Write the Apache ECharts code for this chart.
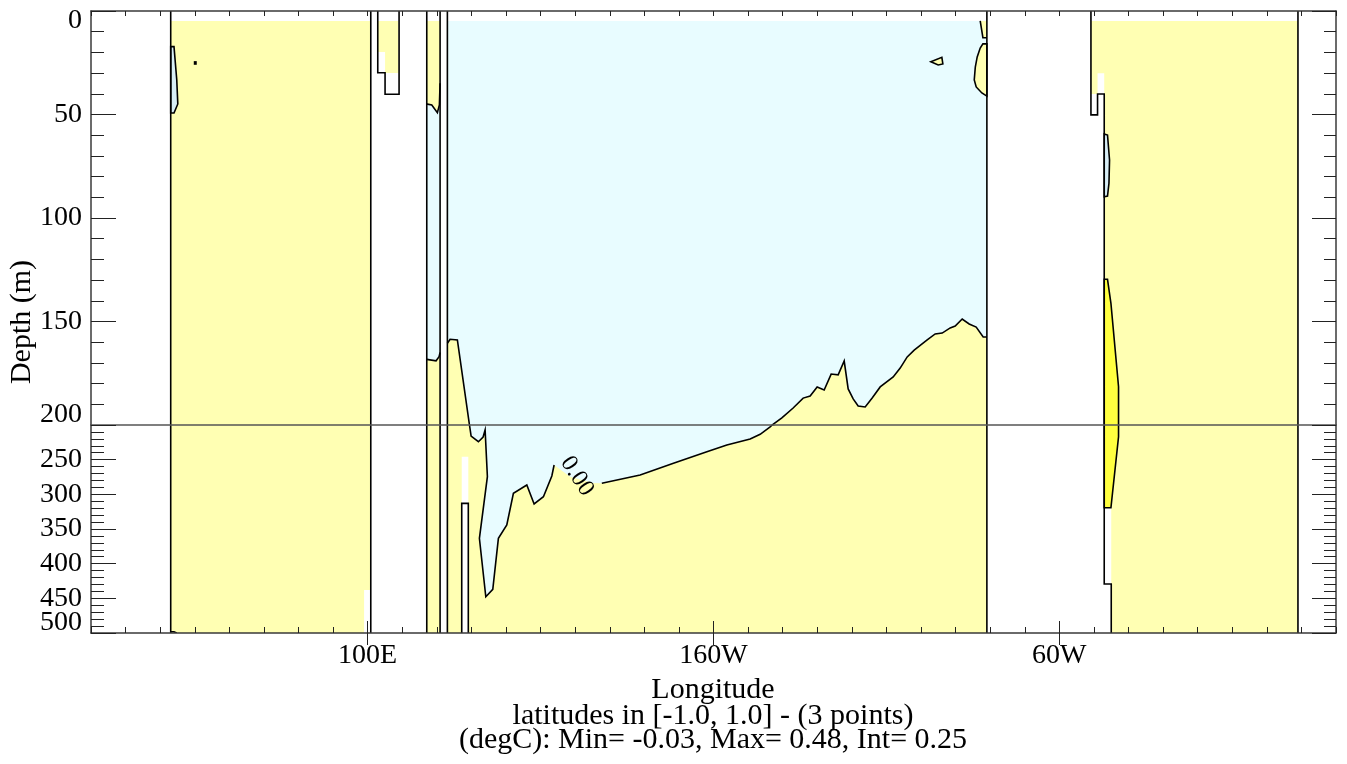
<!DOCTYPE html>
<html><head><meta charset="utf-8">
<script src="https://cdn.jsdelivr.net/npm/echarts@6/dist/echarts.min.js"></script>
<style>html,body{margin:0;padding:0;background:#fff}#c{width:1347px;height:764px}</style>
</head><body><div id="c"></div>
<script>
// ---------- axis data ----------
const lonMin = 20, lonMax = 380;
const xMajorStart = 100, xMajorEnd = 400;   // major longitude ticks every 100 deg
const xMajorTicks = [100, 200, 300];
const xMajorLabels = ['100E', '160W', '60W'];
const depthTop = [0, 200];
const depthBottom = [200, 500];

// ---------- basins (lon, depth) ----------
const indianFill = [[43.05,4.8],[100.9,4.8],[100.9,500],[43.05,500]];
const smallBasinFill = [[102.95,4.8],[108.9,4.8],[108.9,30],[105.03,30],[105.03,19.8],[102.95,19.8]];
const columnFill = [[117.09,4.8],[120.94,4.8],[120.94,500],[117.09,500]];
const pacificFill = [[123.05,4.8],[279.05,4.8],[279.05,500],[123.05,500]];
const atlanticFill = [[309.14,4.8],[369.0,4.8],[369.0,500],[315.01,500],[315.01,319.5],[312.98,319.5],[312.98,30.1],[311.05,30.1],[311.05,40.1],[309.14,40.1]];

// ---------- zero contour, Pacific ----------
const pacificContourA = [[123.05,160.5],[123.83,158.6],[125.94,158.9],[129.44,200],[129.91,215.9],[132.02,224.1],[133.38,217.3],[133.96,207.2],[134.62,274.6],[132.31,363.4],[134.16,447.7],[136.18,437.0],[137.80,363.4],[140.23,344.2],[142.14,298.5],[146.02,286.5],[148.13,313.9],[150.82,303.4],[153.25,273.6],[153.91,257.7]];
const pacificContourGap = [[158.54,274.6],[165.19,283.7]];
const pacificContourB = [[167.71,284.1],[178.79,272.1],[188.42,255.2],[198.08,238.5],[203.86,228.8],[210.60,220.2],[213.49,213.4],[216.38,202.9],[216.96,200],[219.77,196.6],[223.03,191.8],[225.92,187.0],[227.95,186.0],[229.97,181.6],[232.0,183.1],[234.02,175.4],[236.05,175.8],[237.79,169.1],[238.94,182.6],[240.39,187.4],[241.83,190.8],[243.86,191.3],[245.88,187.0],[248.20,181.6],[251.96,176.8],[253.98,172.5],[256.01,167.1],[258.03,163.8],[261.79,158.9],[264.10,156.0],[266.13,155.6],[268.44,153.1],[269.89,152.2],[271.91,148.8],[273.93,151.2],[275.96,152.7],[277.98,157.5],[279.05,157.5]];
const contourLabelPos = [160.5, 274];
const contourLabelText = '0.00';

// ---------- other contour patches ----------
const columnCyan = [[117.09,45],[117.27,45],[118.54,45.4],[120.16,49.1],[120.74,45.4],[120.94,34.9],[120.94,165],[120.65,167.0],[119.78,169.0],[117.09,168.3]];
const columnContourUpper = [[117.09,45],[117.27,45],[118.54,45.4],[120.16,49.1],[120.74,45.4],[120.94,34.9]];
const columnContourLower = [[117.09,168.3],[119.78,169.0],[120.65,167.0],[120.94,165]];
const indianLens = [[43.05,17.2],[44.0,17.2],[44.8,33.3],[45.1,44.9],[44.0,49.3],[43.05,49.3]];
const indianDot = [[49.95,24.6],[50.35,24.6],[50.35,25.6],[49.95,25.6]];
const indianBottomCurve = [[43.05,498.3],[44.0,498.3],[44.8,500]];
const pacificTriangle = [[262.85,24.5],[266.03,22.4],[266.32,25.6],[264.97,26.1]];
const pacificEdgeUpper = [[277.12,4.8],[277.9,12.9],[279.05,12.9],[279.05,4.8]];
const pacificEdgeUpperLine = [[277.12,4.8],[277.9,12.9],[279.05,12.9]];
const pacificEdgeLower = [[277.9,15.9],[279.05,15.9],[279.05,41.1],[277.6,39.6],[275.96,36.7],[275.4,33.3],[275.7,27.1],[276.25,22.2],[277.12,17.9]];
const atlanticLens = [[312.98,59.4],[313.93,59.9],[314.52,72],[314.35,83.2],[313.93,89.4],[312.98,89.7]];
const atlanticWarm = [[312.98,129.6],[313.93,129.6],[314.92,141.2],[317.12,181.5],[317.12,200],[317.12,216.9],[314.92,319.3],[312.98,319.3]];

// ---------- no-data patches ----------
const indianNoData = [[98.96,438],[100.69,438],[100.69,500],[98.96,500]];
const pacificNoData = [[127.2,245.7],[129.1,245.7],[129.1,500],[127.2,500]];

// ---------- coastlines ----------
const coastAfricaEast = [[43.05,0],[43.05,500]];
const coastSumatra = [[100.9,0],[100.9,500]];
const coastSmallBasin = [[102.92,0],[102.92,29.8],[105.03,29.8],[105.03,40.2],[109.08,40.2],[109.08,0]];
const coastColumnWest = [[117.09,0],[117.09,500]];
const coastColumnEast = [[120.94,0],[120.94,500]];
const coastPacificWest = [[123.05,0],[123.05,500]];
const coastPacificIsland = [[127.2,500],[127.2,313],[129.1,313],[129.1,500]];
const coastPacificEast = [[279.05,0],[279.05,500]];
const coastAtlanticWest = [[309.14,0],[309.14,50.2],[311.05,50.2],[311.05,40.1],[312.98,40.1],[312.98,429.3],[315.01,429.3],[315.01,500]];
const coastAtlanticEast = [[369.0,0],[369.0,500]];

// ---------- styles / layers ----------
const YELLOW = '#FFFFB3', CYAN = '#E8FCFF', LBLUE = '#D8EEF6', BRIGHT = '#FFFF40', WHITE = '#FFFFFF';
const pacificCyan = [[123.05,4.8],[279.05,4.8]].concat(
  pacificContourA.concat(pacificContourGap, pacificContourB).slice().reverse());
const F = (pts, fill) => ({pts, fill, closed: true});
const FS = (pts, fill) => ({pts, fill, stroke: '#000', closed: true});
const L = (pts) => ({pts, stroke: '#000', closed: false});
const layers = [
  F(indianFill, YELLOW), F(smallBasinFill, YELLOW), F(columnFill, YELLOW),
  F(pacificFill, YELLOW), F(atlanticFill, YELLOW),
  F(pacificCyan, CYAN), F(columnCyan, CYAN),
  FS(indianLens, LBLUE), FS(atlanticLens, LBLUE), FS(atlanticWarm, BRIGHT),
  FS(pacificTriangle, YELLOW), F(pacificEdgeUpper, YELLOW), FS(pacificEdgeLower, YELLOW),
  FS(indianDot, '#000'),
  F(indianNoData, WHITE), F(pacificNoData, WHITE),
  L(pacificEdgeUpperLine), L(pacificContourA), L(pacificContourB),
  L(columnContourUpper), L(columnContourLower), L(indianBottomCurve),
  L(coastAfricaEast), L(coastSumatra), L(coastSmallBasin), L(coastColumnWest),
  L(coastColumnEast), L(coastPacificWest), L(coastPacificIsland), L(coastPacificEast),
  L(coastAtlanticWest), L(coastAtlanticEast)
];

function renderLayer(params, api) {
  const ly = layers[params.dataIndex];
  const pts = ly.pts.map(p => api.coord(p));
  const cs = params.coordSys;
  const el = {
    type: ly.closed ? 'polygon' : 'polyline',
    shape: {points: pts},
    style: {fill: ly.closed ? ly.fill : null, stroke: ly.stroke || null, lineWidth: ly.stroke ? 1.6 : 0, lineJoin: 'miter'}
  };
  return {type: 'group', clipPath: {type: 'rect', shape: {x: cs.x, y: cs.y, width: cs.width, height: cs.height}}, children: [el]};
}
function renderLabel(params, api) {
  const p = api.coord(contourLabelPos);
  return {type: 'text', x: p[0], y: p[1], rotation: -57 * Math.PI / 180,
    style: {text: contourLabelText, font: '24px "Liberation Serif"', fill: '#000', align: 'center', verticalAlign: 'middle'}};
}

const FONT = '"Liberation Serif", "Times New Roman", serif';
const FRAME = {color: '#3a3a3a', width: 1.5};
const TICK = {color: '#222', width: 1};
const GL = 91, GR = 11;
const PX_PER_DEG = (1347 - GL - GR) / (lonMax - lonMin);
const majorLeft = GL + (xMajorStart - lonMin) * PX_PER_DEG;
const majorWidth = (xMajorEnd - xMajorStart) * PX_PER_DEG;
const chart = echarts.init(document.getElementById('c'));
const xBase = {type: 'value', min: lonMin, max: lonMax, splitLine: {show: false}, z: 10};
const yLabel = {fontFamily: FONT, fontSize: 28, lineHeight: 20, color: '#000', margin: 9};
chart.setOption({
  animation: false,
  backgroundColor: '#fff',
  grid: [
    {left: GL, right: GR, top: 11, height: 414, outerBoundsMode: 'none', containLabel: false},
    {left: GL, right: GR, top: 425, height: 208, outerBoundsMode: 'none', containLabel: false},
    {left: majorLeft, width: majorWidth, top: 11, height: 622, outerBoundsMode: 'none', containLabel: false},
    {left: GL, right: GR, top: 425, height: 208, outerBoundsMode: 'none', containLabel: false}
  ],
  xAxis: [
    Object.assign({}, xBase, {gridIndex: 0, position: 'top', interval: 10,
      axisLine: {show: true, onZero: false, lineStyle: FRAME},
      axisTick: {show: true, inside: true, length: 5, lineStyle: TICK}, axisLabel: {show: false}}),
    Object.assign({}, xBase, {gridIndex: 0, position: 'bottom',
      axisLine: {show: true, onZero: false, lineStyle: {color: '#555', width: 1.5}},
      axisTick: {show: false}, axisLabel: {show: false}}),
    Object.assign({}, xBase, {gridIndex: 1, position: 'bottom', interval: 10,
      axisLine: {show: true, onZero: false, lineStyle: FRAME},
      axisTick: {show: true, inside: true, length: 6, lineStyle: TICK},
      axisLabel: {show: true, interval: 0, hideOverlap: false, fontFamily: FONT, fontSize: 28, color: '#000', margin: 9,
        showMinLabel: true, showMaxLabel: true,
        formatter: v => { const i = xMajorTicks.indexOf(Math.round(v)); return i >= 0 ? xMajorLabels[i] : ''; }}}),
    {gridIndex: 2, type: 'value', position: 'top', min: xMajorStart, max: xMajorEnd, interval: 100, z: 10,
      splitLine: {show: false}, axisLine: {show: false},
      axisTick: {show: true, inside: true, length: 12, lineStyle: TICK}, axisLabel: {show: false}},
    {gridIndex: 2, type: 'value', position: 'bottom', min: xMajorStart, max: xMajorEnd, interval: 100, z: 10,
      splitLine: {show: false}, axisLine: {show: false},
      axisTick: {show: true, inside: true, length: 12, lineStyle: TICK}, axisLabel: {show: false}},
    Object.assign({}, xBase, {gridIndex: 3, show: false})
  ],
  yAxis: [
    {gridIndex: 0, type: 'value', position: 'left', inverse: true, min: depthTop[0], max: depthTop[1], interval: 50, z: 10,
      axisLine: {show: true, onZero: false, lineStyle: FRAME},
      axisTick: {show: true, inside: true, length: 25, lineStyle: TICK},
      minorTick: {show: true, splitNumber: 5, length: 13, lineStyle: TICK},
      splitLine: {show: false},
      axisLabel: Object.assign({}, yLabel, {showMinLabel: true, showMaxLabel: true, verticalAlignMinLabel: 'top', verticalAlignMaxLabel: 'bottom'})},
    {gridIndex: 0, type: 'value', position: 'right', inverse: true, min: depthTop[0], max: depthTop[1], interval: 50, z: 10,
      axisLine: {show: true, onZero: false, lineStyle: FRAME},
      axisTick: {show: true, inside: true, length: 24, lineStyle: TICK},
      minorTick: {show: true, splitNumber: 5, length: 12, lineStyle: TICK},
      splitLine: {show: false}, axisLabel: {show: false}},
    {gridIndex: 1, type: 'value', position: 'left', inverse: true, min: depthBottom[0], max: depthBottom[1], interval: 50, z: 10,
      axisLine: {show: true, onZero: false, lineStyle: FRAME},
      axisTick: {show: true, inside: true, length: 25, lineStyle: TICK},
      minorTick: {show: true, splitNumber: 5, length: 13, lineStyle: TICK},
      splitLine: {show: false},
      axisLabel: Object.assign({}, yLabel, {showMinLabel: false, showMaxLabel: false})},
    {gridIndex: 1, type: 'value', position: 'right', inverse: true, min: depthBottom[0], max: depthBottom[1], interval: 50, z: 10,
      axisLine: {show: true, onZero: false, lineStyle: FRAME},
      axisTick: {show: true, inside: true, length: 24, lineStyle: TICK},
      minorTick: {show: true, splitNumber: 5, length: 12, lineStyle: TICK},
      splitLine: {show: false}, axisLabel: {show: false}},
    {gridIndex: 2, type: 'value', min: 0, max: 500, show: false},
    {gridIndex: 3, type: 'value', position: 'left', inverse: true, min: depthBottom[0], max: depthBottom[1], interval: 50, z: 10,
      axisLine: {show: false}, axisTick: {show: false}, splitLine: {show: false},
      axisLabel: Object.assign({}, yLabel, {showMinLabel: false, showMaxLabel: true, verticalAlignMaxLabel: 'bottom',
        formatter: v => (v === depthBottom[1] ? String(v) : '')})}
  ],
  series: [
    {type: 'custom', xAxisIndex: 0, yAxisIndex: 0, z: 1, silent: true, clip: true,
      renderItem: renderLayer, data: layers.map(l => l.pts[0])},
    {type: 'custom', xAxisIndex: 2, yAxisIndex: 2, z: 1, silent: true, clip: true,
      renderItem: renderLayer, data: layers.map(l => l.pts[0])},
    {type: 'custom', xAxisIndex: 2, yAxisIndex: 2, z: 2, silent: true,
      renderItem: renderLabel, data: [contourLabelPos]}
  ],
  graphic: [
    {type: 'text', x: 22, y: 322, rotation: Math.PI / 2, z: 20,
      style: {text: 'Depth (m)', font: '30px ' + FONT, fill: '#000', align: 'center', verticalAlign: 'middle'}},
    {type: 'text', x: 713, y: 690, z: 20,
      style: {text: 'Longitude', font: '30px ' + FONT, fill: '#000', align: 'center', verticalAlign: 'middle'}},
    {type: 'text', x: 713, y: 716, z: 20,
      style: {text: 'latitudes in [-1.0, 1.0] - (3 points)', font: '30px ' + FONT, fill: '#000', align: 'center', verticalAlign: 'middle'}},
    {type: 'text', x: 713, y: 740, z: 20,
      style: {text: '(degC): Min= -0.03, Max= 0.48, Int= 0.25', font: '30px ' + FONT, fill: '#000', align: 'center', verticalAlign: 'middle'}}
  ]
});
</script></body></html>
